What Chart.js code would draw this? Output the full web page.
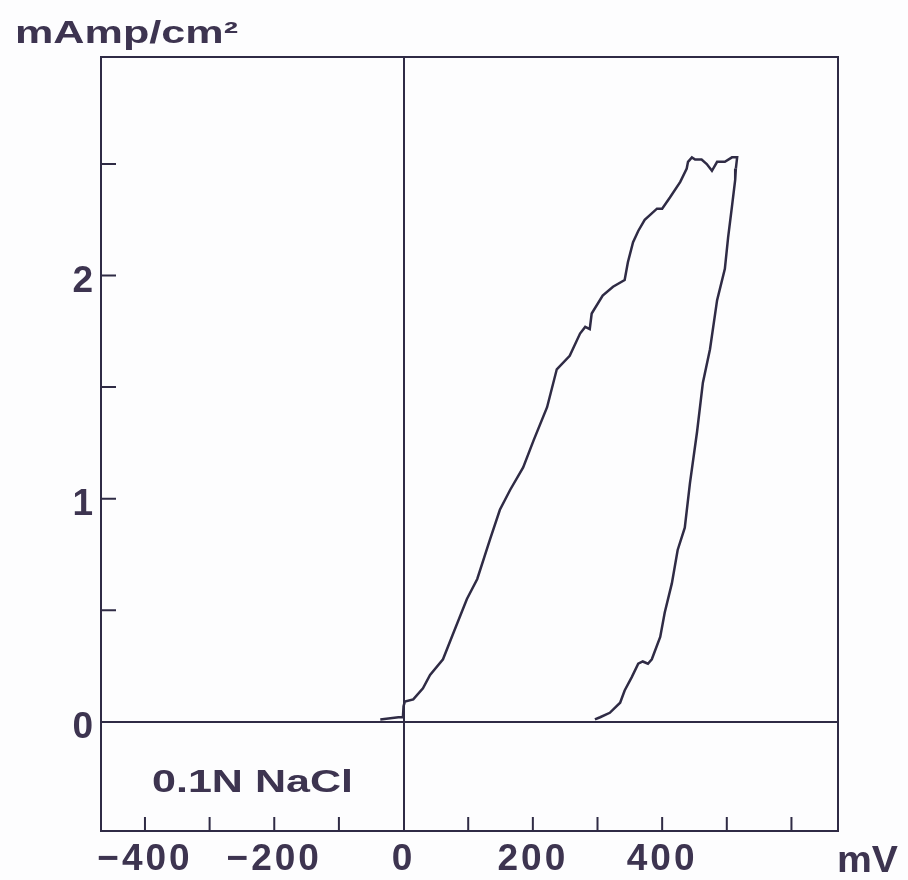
<!DOCTYPE html>
<html>
<head>
<meta charset="utf-8">
<script src="https://cdn.jsdelivr.net/npm/chart.js@4.4.1/dist/chart.umd.min.js"></script>
<style>
  html, body { margin: 0; padding: 0; background: #fdfdfe; }
  #wrap { width: 908px; height: 880px; }
</style>
</head>
<body>
<div id="wrap"><canvas id="polarization" width="908" height="880"></canvas></div>
<script>
// forward sweep (mV, mA/cm2)
const forwardMv = [-36, -8, -1, 0, 2, 15, 30, 41, 61, 76, 98, 114, 134, 149, 165, 185, 201, 222, 237,
  257, 273, 281, 288, 291, 308, 324, 342, 347, 355, 363, 373, 392, 400, 412, 428, 438, 440, 446, 451,
  461, 469, 477, 485, 497, 508, 516, 514];
const forwardMa = [0.01, 0.02, 0.02, 0.07, 0.09, 0.10, 0.15, 0.21, 0.28, 0.39, 0.55, 0.64, 0.82, 0.95, 1.04, 1.14, 1.26, 1.41, 1.58,
  1.64, 1.74, 1.77, 1.76, 1.83, 1.91, 1.95, 1.98, 2.06, 2.15, 2.20, 2.25, 2.30, 2.30, 2.35, 2.42, 2.48, 2.51, 2.53, 2.52,
  2.52, 2.50, 2.47, 2.51, 2.51, 2.53, 2.53, 2.48];

// reverse sweep
const reverseMv = [514, 513, 508, 502, 497, 485, 474, 463, 454, 443, 435, 424, 415, 404, 397, 384, 378,
  370, 363, 353, 342, 335, 319, 304, 296];
const reverseMa = [2.48, 2.43, 2.31, 2.17, 2.03, 1.89, 1.67, 1.52, 1.30, 1.07, 0.87, 0.77, 0.62, 0.49, 0.38, 0.28, 0.26,
  0.27, 0.26, 0.20, 0.14, 0.085, 0.04, 0.02, 0.01];

const xLabels = [-400, -200, 0, 200, 400];
const yLabels = [0, 1, 2];

const INK = '#2f2b45';
const TEXT = '#3d3450';
const FONT = '"Liberation Sans", Arial, sans-serif';

const toPoints = (xs, ys) => xs.map((x, i) => ({ x, y: ys[i] }));

function stretchedText(ctx, text, x, baseline, size, width) {
  ctx.save();
  ctx.font = `bold ${size}px ${FONT}`;
  ctx.fillStyle = TEXT;
  ctx.textBaseline = 'alphabetic';
  ctx.textAlign = 'left';
  const w = ctx.measureText(text).width;
  ctx.translate(x, baseline);
  ctx.scale(width / w, 1);
  ctx.fillText(text, 0, 0);
  ctx.restore();
}

const framePlugin = {
  id: 'frame',
  beforeDraw(chart) {
    chart.ctx.letterSpacing = '3px';
  },
  afterDraw(chart) {
    const { ctx, chartArea: a, scales } = chart;
    ctx.letterSpacing = '0px';
    ctx.save();
    ctx.strokeStyle = INK;
    ctx.lineWidth = 2;
    ctx.strokeRect(a.left, a.top, a.right - a.left, a.bottom - a.top);

    // inward tick marks
    ctx.beginPath();
    scales.x.ticks.forEach((t) => {
      if (t.value === 0) return;
      const px = scales.x.getPixelForValue(t.value);
      ctx.moveTo(px, a.bottom);
      ctx.lineTo(px, a.bottom - 14);
    });
    scales.y.ticks.forEach((t) => {
      if (t.value === 0) return;
      const py = scales.y.getPixelForValue(t.value);
      ctx.moveTo(a.left, py);
      ctx.lineTo(a.left + 15, py);
    });
    ctx.stroke();
    ctx.restore();

    stretchedText(ctx, 'mAmp/cm\u00b2', 15, 43, 31, 223);
    stretchedText(ctx, '0.1N NaCl', 152, 792, 32, 201);
    stretchedText(ctx, 'mV', 837, 872, 37, 61);
  },
};

new Chart(document.getElementById('polarization'), {
  type: 'scatter',
  data: {
    datasets: [
      { label: 'forward', data: toPoints(forwardMv, forwardMa) },
      { label: 'reverse', data: toPoints(reverseMv, reverseMa) },
    ],
  },
  options: {
    responsive: false,
    animation: false,
    showLine: true,
    layout: { padding: { top: 57, right: 70, left: 0, bottom: 0 } },
    elements: {
      point: { radius: 0 },
      line: { borderColor: INK, borderWidth: 2.5, tension: 0 },
    },
    plugins: { legend: { display: false }, tooltip: { enabled: false } },
    scales: {
      x: {
        type: 'linear',
        min: -468,
        max: 672,
        border: { display: false },
        grid: {
          drawTicks: false,
          lineWidth: 2,
          color: (c) => (c.tick && c.tick.value === 0 ? INK : 'transparent'),
        },
        ticks: {
          stepSize: 100,
          includeBounds: false,
          autoSkip: false,
          maxRotation: 0,
          padding: 7,
          color: TEXT,
          font: { family: FONT, size: 37, weight: 'bold' },
          callback: (v) => (xLabels.includes(v) ? (v < 0 ? '\u2212' + Math.abs(v) : String(v)) : ''),
        },
        afterFit: (scale) => { scale.height = 49; },
      },
      y: {
        type: 'linear',
        min: -0.49,
        max: 2.98,
        border: { display: false },
        grid: {
          drawTicks: false,
          lineWidth: 2,
          color: (c) => (c.tick && c.tick.value === 0 ? INK : 'transparent'),
        },
        ticks: {
          stepSize: 0.5,
          includeBounds: false,
          autoSkip: false,
          padding: 5,
          labelOffset: 6,
          color: TEXT,
          font: { family: FONT, size: 37, weight: 'bold' },
          callback: (v) => (yLabels.includes(v) ? String(v) : ''),
        },
        afterFit: (scale) => { scale.width = 101; },
      },
    },
  },
  plugins: [framePlugin],
});
</script>
</body>
</html>
